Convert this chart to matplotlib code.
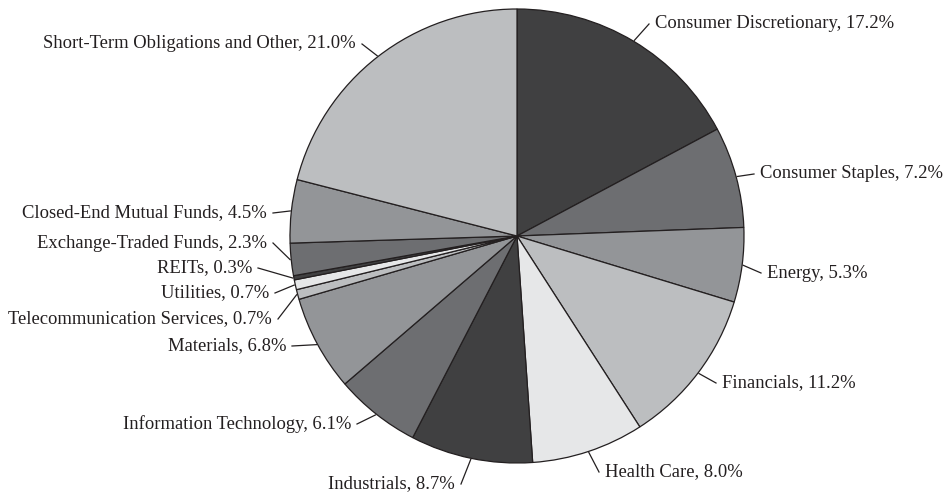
import matplotlib
matplotlib.use("Agg")
from matplotlib import pyplot as plt
import numpy as np

labels = ["Consumer Discretionary", "Consumer Staples", "Energy", "Financials",
          "Health Care", "Industrials", "Information Technology", "Materials",
          "Telecommunication Services", "Utilities", "REITs",
          "Exchange-Traded Funds", "Closed-End Mutual Funds",
          "Short-Term Obligations and Other"]
values = [17.2, 7.2, 5.3, 11.2, 8.0, 8.7, 6.1, 6.8, 0.7, 0.7, 0.3, 2.3, 4.5, 21.0]

shades = ["#404041", "#6d6e71", "#939598", "#bcbec0", "#e6e7e8"]
colors = [shades[i % 5] for i in range(len(values))]

# label placement in pixel coords (x, y from top), alignment
label_pos = [(655, 24, "left"), (760, 174, "left"), (767, 273, "left"),
             (722, 383, "left"), (605, 472, "left"), (455, 484, "right"),
             (351, 424, "right"), (286, 346, "right"), (272, 319, "right"),
             (269, 293, "right"), (252, 268, "right"), (267, 243, "right"),
             (267, 213, "right"), (356, 44, "right")]

W, H = 946, 493
cx, cy, R = 517, 236, 227

fig = plt.figure(figsize=(W / 100, H / 100), dpi=100)
ax = fig.add_axes([0, 0, 1, 1])

wedges, _ = ax.pie(values, colors=colors, startangle=90, counterclock=False,
                   center=(cx, H - cy), radius=R,
                   wedgeprops=dict(edgecolor="#231f20", linewidth=0.9))
ax.set_xlim(0, W)
ax.set_ylim(0, H)
ax.set_aspect("equal")
ax.axis("off")

for w, lab, val, (tx, ty, ha) in zip(wedges, labels, values, label_pos):
    mid = np.deg2rad((w.theta1 + w.theta2) / 2)
    ex = cx + R * 1.005 * np.cos(mid)
    ey = (H - cy) + R * 1.005 * np.sin(mid)
    lx = tx - 6 if ha == "left" else tx + 6
    ly = H - ty
    ax.plot([ex, lx], [ey, ly], color="#231f20", linewidth=0.9)
    ax.text(tx, H - ty, f"{lab}, {val:.1f}%", ha=ha, va="center",
            fontsize=13.4, color="#231f20", family=["Liberation Serif"])

fig.savefig("out.png", dpi=100)
